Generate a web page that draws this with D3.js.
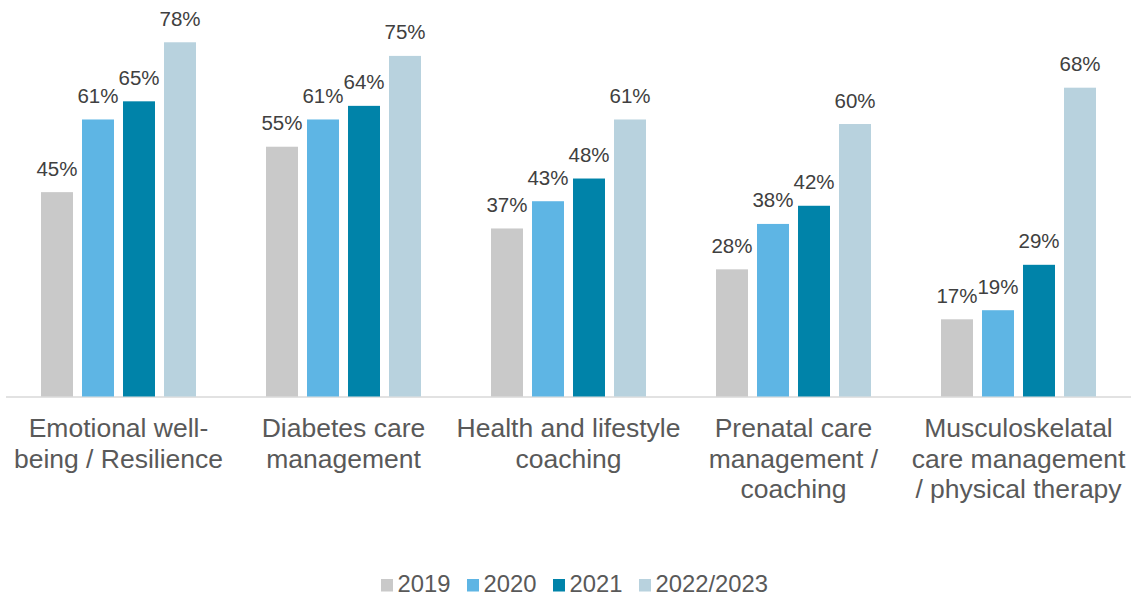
<!DOCTYPE html>
<html>
<head>
<meta charset="utf-8">
<script src="https://cdn.jsdelivr.net/npm/d3@7"></script>
<style>
  body { margin: 0; background: #fff; }
  svg { display: block; font-family: "Liberation Sans", Arial, sans-serif; }
  .value { fill: #404040; font-size: 20.5px; }
  .cat { fill: #595959; font-size: 26.5px; }
  .legend text { fill: #595959; font-size: 23.8px; }
</style>
</head>
<body>
<svg width="1134" height="596"></svg>
<script>
var categories = [
    ["Emotional well-", "being / Resilience"],
    ["Diabetes care", "management"],
    ["Health and lifestyle", "coaching"],
    ["Prenatal care", "management /", "coaching"],
    ["Musculoskelatal", "care management", "/ physical therapy"]
];
var years = ["2019", "2020", "2021", "2022/2023"];
var colors = ["#c9c9c9", "#5eb5e4", "#0083a9", "#b8d2de"];

var v2019 = [45, 55, 37, 28, 17];
var v2020 = [61, 61, 43, 38, 19];
var v2021 = [65, 64, 48, 42, 29];
var v2022 = [78, 75, 61, 60, 68];
var series = [v2019, v2020, v2021, v2022];

var svg = d3.select("svg");

var x0 = d3.scaleBand()
    .domain(d3.range(categories.length))
    .range([6, 1131]);

var x1 = d3.scaleBand()
    .domain(years)
    .range([35, 190])
    .paddingInner(0.22);

var y = d3.scaleLinear()
    .domain([0, 80])
    .range([396.5, 33.2]);

var color = d3.scaleOrdinal().domain(years).range(colors);

// baseline
svg.append("line")
    .attr("x1", x0.range()[0])
    .attr("x2", x0.range()[1])
    .attr("y1", y(0) + 0.5)
    .attr("y2", y(0) + 0.5)
    .attr("stroke", "#d9d9d9")
    .attr("stroke-width", 1.5);

var groups = svg.selectAll("g.group")
    .data(categories)
    .enter().append("g")
      .attr("class", "group")
      .attr("transform", function (d, i) { return "translate(" + x0(i) + ",0)"; });

groups.each(function (d, i) {
    var g = d3.select(this);
    var vals = years.map(function (yr, k) { return {year: yr, value: series[k][i]}; });

    g.selectAll("rect")
        .data(vals)
        .enter().append("rect")
          .attr("x", function (v) { return x1(v.year); })
          .attr("y", function (v) { return y(v.value); })
          .attr("width", x1.bandwidth())
          .attr("height", function (v) { return y(0) - y(v.value); })
          .attr("fill", function (v) { return color(v.year); });

    g.selectAll("text.value")
        .data(vals)
        .enter().append("text")
          .attr("class", "value")
          .attr("x", function (v) { return x1(v.year) + x1.bandwidth() / 2; })
          .attr("y", function (v) { return y(v.value) - 16.5; })
          .attr("text-anchor", "middle")
          .text(function (v) { return v.value + "%"; });

    var label = g.append("text")
        .attr("class", "cat")
        .attr("text-anchor", "middle");
    label.selectAll("tspan")
        .data(d)
        .enter().append("tspan")
          .attr("x", x0.bandwidth() / 2)
          .attr("y", function (line, j) { return 437 + j * 30.5; })
          .text(function (line) { return line; });
});

// legend
var legendX = [381, 467, 553, 639];
var legend = svg.append("g").attr("class", "legend");
years.forEach(function (yr, k) {
    legend.append("rect")
        .attr("x", legendX[k])
        .attr("y", 579)
        .attr("width", 12)
        .attr("height", 12.5)
        .attr("fill", color(yr));
    legend.append("text")
        .attr("x", legendX[k] + 16.5)
        .attr("y", 592)
        .text(yr);
});
</script>
</body>
</html>
